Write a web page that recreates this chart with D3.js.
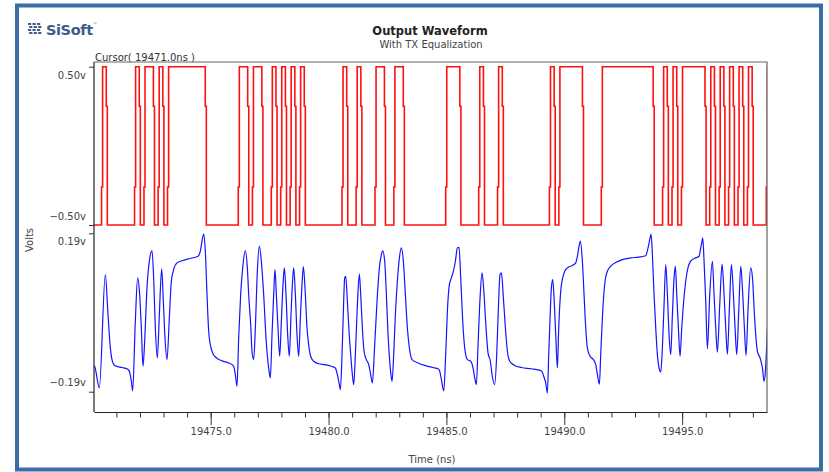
<!DOCTYPE html>
<html>
<head>
<meta charset="utf-8">
<script src="https://cdn.jsdelivr.net/npm/d3@7"></script>
<style>
  body { margin: 0; background: #fff; }
  text { font-family: "DejaVu Sans", Verdana, sans-serif; }
</style>
</head>
<body>
<svg id="chart" width="829" height="472"></svg>
<script>
// time axis
const timeDomain = [19470.05, 19498.6];
const majorTicks = [19475, 19480, 19485, 19490, 19495];
const minorTicks = d3.range(19471, 19499, 1);

// input bit stream (red), high runs given as [startBit, endBit)
const bitStart = 19470.17;
const bitPeriod = 0.2;
const highRuns = [
  [1, 2], [8, 9], [10, 12], [13, 14], [15, 23], [30, 32], [33, 35], [37, 38],
  [39, 40], [41, 42], [43, 44], [52, 53], [55, 56], [59, 61], [63, 65], [74, 77],
  [81, 82], [85, 86], [96, 97], [98, 103], [107, 118], [120, 121], [122, 123],
  [124, 129], [130, 131], [132, 133], [134, 135], [136, 137], [138, 139], [142, 146]
];
const redLevels = [-0.5, 0.5];

// equalized output (blue), [ns after 19470, volts]
const waveOrigin = 19470;
const blueWave = [
  [0.05, -0.127], [0.078, -0.129], [0.276, -0.181], [0.531, 0.091], [0.644, -0.005], [0.743, -0.085],
  [0.814, -0.113], [0.927, -0.127], [1.238, -0.132], [1.450, -0.135], [1.549, -0.141], [1.634, -0.165],
  [1.690, -0.188], [1.803, -0.021], [1.902, 0.083], [1.987, 0.043], [2.058, -0.037], [2.129, -0.129],
  [2.199, -0.069], [2.298, 0.059], [2.397, 0.123], [2.511, 0.148], [2.581, 0.083], [2.652, -0.037],
  [2.737, -0.109], [2.822, -0.005], [2.921, 0.105], [2.991, 0.027], [3.062, -0.061], [3.147, -0.113],
  [3.246, -0.013], [3.331, 0.075], [3.430, 0.103], [3.571, 0.119], [3.783, 0.124], [4.066, 0.129],
  [4.462, 0.135], [4.561, 0.147], [4.632, 0.171], [4.703, 0.188], [4.773, 0.147], [4.844, 0.043],
  [4.915, -0.045], [4.985, -0.077], [5.084, -0.097], [5.226, -0.108], [5.480, -0.116], [5.763, -0.121],
  [5.905, -0.125], [5.975, -0.129], [6.046, -0.149], [6.117, -0.177], [6.187, -0.061], [6.272, 0.043],
  [6.357, 0.107], [6.470, 0.148], [6.555, 0.107], [6.612, 0.043], [6.697, -0.029], [6.753, -0.093],
  [6.824, -0.113], [6.895, -0.037], [6.979, 0.099], [7.064, 0.159], [7.149, 0.123], [7.248, 0.043],
  [7.347, -0.061], [7.460, -0.133], [7.531, -0.157], [7.602, -0.053], [7.672, 0.043], [7.729, 0.103],
  [7.786, 0.043], [7.856, -0.037], [7.927, -0.105], [7.998, -0.021], [8.068, 0.067], [8.125, 0.107],
  [8.196, 0.043], [8.266, -0.053], [8.337, -0.105], [8.408, -0.005], [8.464, 0.067], [8.521, 0.107],
  [8.592, 0.043], [8.662, -0.053], [8.733, -0.105], [8.804, -0.013], [8.874, 0.067], [8.931, 0.110],
  [9.016, 0.043], [9.086, -0.037], [9.157, -0.077], [9.242, -0.105], [9.369, -0.117], [9.582, -0.123],
  [9.837, -0.125], [10.120, -0.129], [10.289, -0.133], [10.374, -0.149], [10.445, -0.169], [10.502, -0.185],
  [10.572, -0.101], [10.629, 0.003], [10.685, 0.083], [10.728, 0.087], [10.798, 0.027], [10.869, -0.045],
  [10.940, -0.101], [11.011, -0.149], [11.067, -0.173], [11.138, -0.101], [11.223, 0.019], [11.308, 0.092],
  [11.364, 0.043], [11.435, -0.037], [11.506, -0.093], [11.605, -0.113], [11.704, -0.125], [11.788, -0.149],
  [11.859, -0.169], [11.958, -0.077], [12.057, 0.027], [12.156, 0.107], [12.241, 0.139], [12.298, 0.148],
  [12.382, 0.123], [12.453, 0.043], [12.524, -0.053], [12.595, -0.117], [12.665, -0.157], [12.694, -0.165],
  [12.764, -0.101], [12.835, -0.005], [12.920, 0.075], [13.005, 0.131], [13.090, 0.155], [13.174, 0.123],
  [13.259, 0.043], [13.344, -0.037], [13.429, -0.085], [13.542, -0.113], [13.797, -0.121], [14.079, -0.127],
  [14.433, -0.132], [14.645, -0.135], [14.716, -0.141], [14.787, -0.161], [14.886, -0.188], [14.970, -0.101],
  [15.041, 0.003], [15.126, 0.067], [15.211, 0.083], [15.296, 0.099], [15.381, 0.123], [15.465, 0.155],
  [15.536, 0.156], [15.607, 0.083], [15.692, -0.021], [15.776, -0.085], [15.890, -0.113], [16.031, -0.117],
  [16.130, -0.133], [16.201, -0.157], [16.271, -0.173], [16.342, -0.077], [16.427, 0.035], [16.512, 0.095],
  [16.597, 0.043], [16.681, -0.037], [16.766, -0.097], [16.865, -0.117], [16.936, -0.149], [17.049, -0.173],
  [17.134, -0.101], [17.205, 0.011], [17.275, 0.091], [17.332, 0.095], [17.417, 0.035], [17.502, -0.037],
  [17.587, -0.093], [17.686, -0.117], [17.898, -0.127], [18.181, -0.132], [18.605, -0.135], [19.029, -0.140],
  [19.128, -0.153], [19.213, -0.169], [19.283, -0.193], [19.340, -0.101], [19.397, -0.013], [19.453, 0.059],
  [19.510, 0.079], [19.580, 0.019], [19.637, -0.053], [19.708, -0.133], [19.764, -0.037], [19.849, 0.051],
  [19.934, 0.083], [20.019, 0.099], [20.132, 0.107], [20.344, 0.113], [20.485, 0.119], [20.556, 0.135],
  [20.627, 0.159], [20.683, 0.171], [20.768, 0.123], [20.839, 0.043], [20.910, -0.037], [20.980, -0.085],
  [21.094, -0.105], [21.235, -0.113], [21.334, -0.125], [21.405, -0.149], [21.490, -0.172], [21.546, -0.101],
  [21.631, 0.003], [21.730, 0.075], [21.829, 0.099], [21.970, 0.111], [22.182, 0.120], [22.465, 0.127],
  [22.819, 0.131], [23.172, 0.133], [23.455, 0.136], [23.554, 0.155], [23.639, 0.179], [23.682, 0.188],
  [23.738, 0.139], [23.809, 0.043], [23.880, -0.037], [23.950, -0.101], [24.021, -0.133], [24.092, -0.143],
  [24.162, -0.085], [24.233, 0.019], [24.304, 0.115], [24.375, 0.043], [24.445, -0.053], [24.516, -0.101],
  [24.587, -0.005], [24.657, 0.083], [24.714, 0.111], [24.771, 0.043], [24.841, -0.037], [24.912, -0.105],
  [24.983, -0.037], [25.053, 0.019], [25.152, 0.075], [25.251, 0.108], [25.364, 0.123], [25.577, 0.131],
  [25.718, 0.135], [25.789, 0.155], [25.831, 0.167], [25.874, 0.179], [25.930, 0.123], [26.001, 0.027],
  [26.072, -0.087], [26.171, 0.043], [26.284, 0.123], [26.354, 0.043], [26.425, -0.037], [26.496, -0.095],
  [26.595, 0.019], [26.694, 0.116], [26.779, 0.043], [26.849, -0.037], [26.920, -0.100], [27.005, 0.011],
  [27.090, 0.115], [27.175, 0.043], [27.245, -0.037], [27.316, -0.101], [27.401, 0.003], [27.486, 0.111],
  [27.571, 0.043], [27.641, -0.037], [27.712, -0.103], [27.797, 0.011], [27.910, 0.107], [27.995, 0.075],
  [28.051, 0.011], [28.122, -0.053], [28.193, -0.093], [28.306, -0.109], [28.405, -0.133], [28.476, -0.165],
  [28.532, -0.141], [28.589, -0.077], [28.617, -0.037]
];

const svg = d3.select('#chart');
const plotL = 94, plotR = 767, plotT = 62, plotB = 412;

// outer frame
svg.append('rect').attr('x', 17).attr('y', 5.5).attr('width', 804).attr('height', 464)
  .attr('fill', '#fff').attr('stroke', '#3b6ea6').attr('stroke-width', 4);

// logo
const logo = svg.append('g').attr('fill', '#3d5b8d');
[28, 32.5, 37].forEach(bx => {
  [23, 26, 29, 32].forEach((by, i) => {
    logo.append('rect').attr('x', bx + (i % 2 ? 1.2 : 0)).attr('y', by).attr('width', 3.2).attr('height', 2);
  });
});
const logoText = logo.append('text').attr('x', 46).attr('y', 35).attr('font-size', 14.5)
  .attr('font-weight', 'bold').attr('font-family', '"Liberation Sans", Arial, sans-serif')
  .attr('letter-spacing', -0.4);
logoText.append('tspan').text('SiSoft');
logoText.append('tspan').attr('font-size', 4.5).attr('dy', -9).attr('font-weight', 'normal').text('™');

// titles
svg.append('text').attr('x', 430).attr('y', 35).attr('text-anchor', 'middle')
  .attr('font-size', 11.5).attr('font-weight', 'bold').attr('fill', '#222').text('Output Waveform');
svg.append('text').attr('x', 431).attr('y', 48).attr('text-anchor', 'middle')
  .attr('font-size', 10).attr('fill', '#444').text('With TX Equalization');
svg.append('text').attr('x', 95).attr('y', 60.5).attr('font-size', 10).attr('fill', '#333')
  .text('Cursor( 19471.0ns )');

const x = d3.scaleLinear().domain(timeDomain).range([plotL, plotR]);
const yRed = d3.scaleLinear().domain([-0.5, 0.5]).range([225, 66.7]);
const yBlue = d3.scaleLinear().domain([-0.19, 0.19]).range([391.7, 233.3]);

svg.append('clipPath').attr('id', 'plot-clip').append('rect')
  .attr('x', plotL).attr('y', plotT).attr('width', plotR - plotL).attr('height', plotB - plotT);

// red trace with the stepped edges
const lo = redLevels[0], hi = redLevels[1], dt = 0.045;
const redPts = [[timeDomain[0], lo]];
highRuns.forEach(([a, b]) => {
  const t1 = bitStart + a * bitPeriod, t2 = bitStart + b * bitPeriod;
  redPts.push([t1, lo], [t1, -0.26], [t1 + dt, -0.26], [t1 + dt, hi]);
  redPts.push([t2, hi], [t2, 0.25], [t2 + dt, 0.25], [t2 + dt, lo]);
});
const plot = svg.append('g').attr('clip-path', 'url(#plot-clip)');
plot.append('path').datum(redPts)
  .attr('d', d3.line().x(d => x(d[0])).y(d => yRed(d[1])))
  .attr('fill', 'none').attr('stroke', '#ff1010').attr('stroke-width', 1.6);

plot.append('path').datum(blueWave)
  .attr('d', d3.line().x(d => x(waveOrigin + d[0])).y(d => yBlue(d[1])).curve(d3.curveMonotoneX))
  .attr('fill', 'none').attr('stroke', '#1414ff').attr('stroke-width', 1.2);

// plot frame (top and right lighter)
svg.append('path').attr('d', `M${plotL},${plotT}H${plotR}V${plotB}`)
  .attr('fill', 'none').attr('stroke', '#666').attr('stroke-width', 1.2);

// axes
const yAxis = (scale, vals) => {
  const g = svg.append('g').attr('transform', `translate(${plotL},0)`)
    .call(d3.axisLeft(scale).tickValues(vals).tickSize(5).tickSizeOuter(0)
      .tickFormat(d => d3.format('.2f')(d) + 'v'));
  g.select('.domain').remove();
  g.selectAll('text').attr('dy', (d, i) => i === 0 ? '-0.6em' : '1.15em')
    .attr('font-size', 10).attr('fill', '#444').attr('font-family', null);
  g.selectAll('line').attr('stroke', '#333');
};
yAxis(yRed, [-0.5, 0.5]);
yAxis(yBlue, [-0.19, 0.19]);

svg.append('line').attr('x1', plotL).attr('x2', plotL).attr('y1', plotT).attr('y2', plotB)
  .attr('stroke', '#222').attr('stroke-width', 1.2);

const xMinor = svg.append('g').attr('transform', `translate(0,${plotB})`)
  .call(d3.axisBottom(x).tickValues(minorTicks).tickSize(5.5).tickSizeOuter(0).tickFormat(''));
xMinor.selectAll('line').attr('stroke', '#333');
xMinor.select('.domain').attr('stroke', '#222').attr('stroke-width', 1.2);
const xMajor = svg.append('g').attr('transform', `translate(0,${plotB})`)
  .call(d3.axisBottom(x).tickValues(majorTicks).tickSize(13).tickSizeOuter(0)
    .tickFormat(d => d.toFixed(1)));
xMajor.select('.domain').remove();
xMajor.selectAll('line').attr('stroke', '#333');
xMajor.selectAll('text').attr('font-size', 10).attr('fill', '#444').attr('font-family', null);

svg.append('text').attr('x', 432).attr('y', 463).attr('text-anchor', 'middle')
  .attr('font-size', 10).attr('fill', '#444').text('Time (ns)');
svg.append('text').attr('transform', 'translate(33,240) rotate(-90)').attr('text-anchor', 'middle')
  .attr('font-size', 10).attr('fill', '#444').text('Volts');
</script>
</body>
</html>
